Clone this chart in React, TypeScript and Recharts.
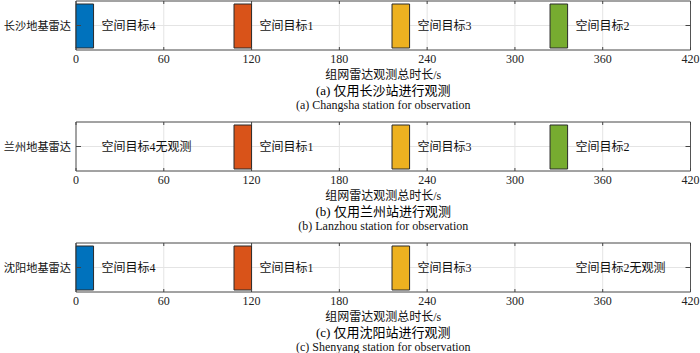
import React from 'react';
import {
  BarChart,
  Bar,
  XAxis,
  YAxis,
  CartesianGrid,
  ReferenceArea,
  LabelList
} from 'recharts';

// values
const stations = ['长沙地基雷达', '兰州地基雷达', '沈阳地基雷达'];
const targets = ['空间目标4', '空间目标1', '空间目标3', '空间目标2'];
const windows: [number, number][] = [[0, 12], [108, 120], [216, 228], [324, 336]];
const observed = [
  [true, true, true, true],
  [false, true, true, true],
  [true, true, true, false]
];
const xTicks = [0, 60, 120, 180, 240, 300, 360, 420];
const xTitle = '组网雷达观测总时长/s';
const captionsCn = ['(a) 仅用长沙站进行观测', '(b) 仅用兰州站进行观测', '(c) 仅用沈阳站进行观测'];
const captionsEn = [
  '(a) Changsha station for observation',
  '(b) Lanzhou station for observation',
  '(c) Shenyang station for observation'
];

const colors = ['#0072BD', '#D95319', '#EDB120', '#77AC30'];
const FONT = "'Liberation Serif', 'Noto Sans CJK SC', serif";
const PLOT_H = 49;
const PLOT_L = 76;
const PLOT_R = 690.5;
const PANEL_TOPS = [0, 121, 242];

const XTick = (props: any) => {
  const { x, y, payload } = props;
  const base = y - 2;
  return (
    <g>
      <line x1={x} x2={x} y1={base} y2={base - 3} stroke="#444" />
      <line x1={x} x2={x} y1={base - PLOT_H} y2={base - PLOT_H + 3} stroke="#444" />
      <text x={x} y={y + 7} textAnchor="middle" dominantBaseline="central" fontSize={12} fontFamily={FONT} fill="#222">
        {payload.value}
      </text>
    </g>
  );
};

const YTick = (props: any) => {
  const { x, y, payload } = props;
  return (
    <g>
      <line x1={PLOT_L} x2={PLOT_L + 5} y1={y} y2={y} stroke="#444" />
      <line x1={PLOT_R - 5} x2={PLOT_R} y1={y} y2={y} stroke="#444" />
      <text x={x} y={y} textAnchor="end" dominantBaseline="central" fontSize={11.2} fontFamily={FONT} fill="#111">
        {payload.value}
      </text>
    </g>
  );
};

const Panel = ({ idx }: { idx: number }) => {
  const row: any = { station: stations[idx] };
  targets.forEach((_, i) => {
    row['t' + i] = windows[i];
  });
  const data = [row];
  const top = PANEL_TOPS[idx];

  return (
    <div style={{ position: 'absolute', left: 0, top, width: 700, height: 121 }}>
      <BarChart
        width={700}
        height={72}
        data={data}
        layout="vertical"
        barSize={44}
        barGap={-44}
        margin={{ top: 1, right: 700 - PLOT_R, left: 0, bottom: 0 }}
      >
        <CartesianGrid stroke="#e4e4e4" />
        <XAxis
          type="number"
          domain={[0, 420]}
          ticks={xTicks}
          axisLine={false}
          tickLine={false}
          tickSize={0}
          tickMargin={2}
          height={72 - 1 - PLOT_H}
          tick={<XTick />}
          interval={0}
        />
        <YAxis
          type="category"
          dataKey="station"
          width={PLOT_L}
          axisLine={false}
          tickLine={false}
          tickSize={0}
          tickMargin={5}
          tick={<YTick />}
        />
        {targets.map((name, i) => {
          const seen = observed[idx][i];
          return (
            <Bar
              key={name}
              dataKey={'t' + i}
              fill={seen ? colors[i] : 'transparent'}
              stroke={seen ? '#2a2a2a' : 'none'}
              strokeWidth={1}
              isAnimationActive={false}
            >
              <LabelList
                content={(p: any) => (
                  <text
                    x={p.x + p.width + 8}
                    y={p.y + p.height / 2}
                    dominantBaseline="central"
                    fontSize={12}
                    fontFamily={FONT}
                    fill="#111"
                  >
                    {seen ? name : name + '无观测'}
                  </text>
                )}
              />
            </Bar>
          );
        })}
        <ReferenceArea x1={0} x2={420} fill="none" stroke="#555" strokeWidth={1} ifOverflow="visible" />
      </BarChart>
      <div style={{ position: 'absolute', left: PLOT_L, width: PLOT_R - PLOT_L, top: 65.5, textAlign: 'center', fontFamily: FONT, fontSize: 12, lineHeight: '18px', color: '#111' }}>
        {xTitle}
      </div>
      <div style={{ position: 'absolute', left: PLOT_L, width: PLOT_R - PLOT_L, top: 82, textAlign: 'center', fontFamily: FONT, fontSize: 13, lineHeight: '18px', color: '#000' }}>
        {captionsCn[idx]}
      </div>
      <div style={{ position: 'absolute', left: PLOT_L, width: PLOT_R - PLOT_L, top: 96.5, textAlign: 'center', fontFamily: FONT, fontSize: 12, lineHeight: '16px', color: '#111' }}>
        {captionsEn[idx]}
      </div>
    </div>
  );
};

export default function App() {
  return (
    <div style={{ position: 'absolute', left: 0, top: 0, width: 700, height: 353, background: '#fff', overflow: 'hidden' }}>
      {stations.map((s, i) => (
        <Panel key={s} idx={i} />
      ))}
    </div>
  );
}
